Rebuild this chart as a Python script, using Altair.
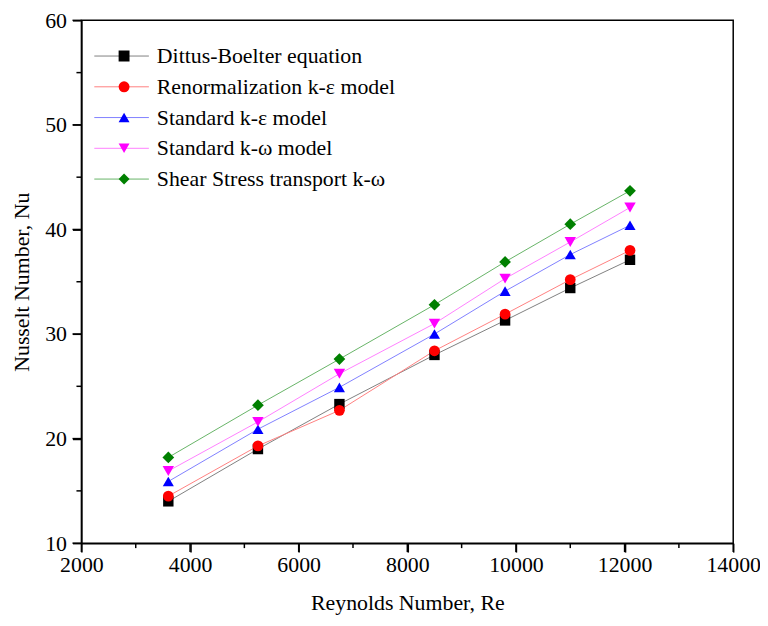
import altair as alt
import pandas as pd

# ---- data ----
reynolds = [3600, 5250, 6750, 8500, 9800, 11000, 12100]
series_names = [
    "Dittus-Boelter equation",
    "Renormalization k-ε model",
    "Standard k-ε model",
    "Standard k-ω model",
    "Shear Stress transport k-ω",
]
dittus = [14.0, 19.0, 23.3, 28.0, 31.3, 34.4, 37.1]
renorm_ke = [14.5, 19.3, 22.7, 28.4, 31.9, 35.2, 38.0]
standard_ke = [15.9, 20.9, 24.9, 30.0, 34.1, 37.6, 40.4]
standard_kw = [16.9, 21.6, 26.2, 31.0, 35.3, 38.8, 42.1]
sst_kw = [18.2, 23.2, 27.6, 32.8, 36.9, 40.5, 43.7]

colors = ["#000000", "#ff0000", "#0000ff", "#ff00ff", "#008000"]
line_colors = ["#808080", "#ff8080", "#8080ff", "#ff80ff", "#66b366"]
shapes = ["square", "circle", "triangle-up", "triangle-down", "diamond"]
marker_sizes = [110, 140, 160, 160, 160]

x_major = list(range(2000, 14001, 2000))
x_minor = list(range(3000, 14000, 2000))
y_major = list(range(10, 61, 10))
y_minor = list(range(15, 60, 10))

values = [dittus, renorm_ke, standard_ke, standard_kw, sst_kw]
rows = []
for name, vals in zip(series_names, values):
    for re_, nu in zip(reynolds, vals):
        rows.append({"Re": re_, "Nu": nu, "series": name})
df = pd.DataFrame(rows)

W, H = 657, 527
MAJOR, MINOR = 9, 5

FONT = "Liberation Serif"
x_scale = alt.Scale(domain=[2000, 14000], nice=False, zero=False)
y_scale = alt.Scale(domain=[10, 60], nice=False, zero=False)

x_major_axis = alt.Axis(
    title="Reynolds Number, Re", orient="bottom", values=x_major, format="d",
    ticks=True, tickSize=MAJOR, labelPadding=3, titlePadding=17,
)
y_major_axis = alt.Axis(
    title="Nusselt Number, Nu", orient="left", values=y_major,
    ticks=True, tickSize=MAJOR, labelPadding=6, titlePadding=11,
)

ROW_H = 23
line_legend = alt.Legend(
    title=None, orient="none", legendX=12.5, legendY=24.5, padding=0,
    symbolType="stroke", symbolSize=3025, symbolStrokeWidth=1,
    labelFont=FONT, labelFontSize=22, labelExpr="''", labelLimit=500,
    labelOffset=22, clipHeight=ROW_H, rowPadding=8,
)
marker_legend = alt.Legend(
    title=None, orient="none", legendX=32, legendY=24.5, padding=0,
    symbolSize=121, symbolStrokeWidth=0, symbolOpacity=1,
    labelFont=FONT, labelFontSize=22, labelColor="black", labelLimit=500,
    labelOffset=22, clipHeight=ROW_H, rowPadding=8,
)

lines = alt.Chart(df).mark_line(strokeWidth=1).encode(
    x=alt.X("Re:Q", scale=x_scale, axis=x_major_axis),
    y=alt.Y("Nu:Q", scale=y_scale, axis=y_major_axis),
    color=alt.Color("series:N", scale=alt.Scale(domain=series_names, range=line_colors), legend=line_legend),
)

points = alt.Chart(df).mark_point(filled=True, opacity=1).encode(
    x=alt.X("Re:Q", scale=x_scale, axis=None),
    y=alt.Y("Nu:Q", scale=y_scale, axis=None),
    color=alt.Color("series:N", scale=alt.Scale(domain=series_names, range=colors), legend=marker_legend),
    shape=alt.Shape("series:N", scale=alt.Scale(domain=series_names, range=shapes), legend=marker_legend),
    size=alt.Size("series:O", scale=alt.Scale(domain=series_names, range=marker_sizes), legend=None),
)

# outward axis ticks (major and minor), placed through the axis scales
x_tick_df = pd.DataFrame(
    [{"v": v, "len": MAJOR} for v in x_major] + [{"v": v, "len": MINOR} for v in x_minor]
)
y_tick_df = pd.DataFrame(
    [{"v": v, "len": MAJOR} for v in y_major] + [{"v": v, "len": MINOR} for v in y_minor]
)

x_ticks_major = alt.Chart(x_tick_df).transform_filter(f"datum.len == {MAJOR}").mark_rule(
    color="black", strokeWidth=1.5
).encode(x=alt.X("v:Q", scale=x_scale, axis=None), y=alt.value(H), y2=alt.value(H + MAJOR))
x_ticks_minor = alt.Chart(x_tick_df).transform_filter(f"datum.len == {MINOR}").mark_rule(
    color="black", strokeWidth=1.5
).encode(x=alt.X("v:Q", scale=x_scale, axis=None), y=alt.value(H), y2=alt.value(H + MINOR))
y_ticks_major = alt.Chart(y_tick_df).transform_filter(f"datum.len == {MAJOR}").mark_rule(
    color="black", strokeWidth=1.5
).encode(y=alt.Y("v:Q", scale=y_scale, axis=None), x=alt.value(-MAJOR), x2=alt.value(0))
y_ticks_minor = alt.Chart(y_tick_df).transform_filter(f"datum.len == {MINOR}").mark_rule(
    color="black", strokeWidth=1.5
).encode(y=alt.Y("v:Q", scale=y_scale, axis=None), x=alt.value(-MINOR), x2=alt.value(0))

chart = (
    alt.layer(lines, points, x_ticks_major, x_ticks_minor, y_ticks_major, y_ticks_minor)
    .resolve_scale(color="independent", shape="independent")
    .resolve_axis(x="independent", y="independent")
    .properties(
        width=W,
        height=H,
        background="white",
        autosize=alt.AutoSizeParams(type="none"),
        padding={"left": 74, "top": 10, "right": 27, "bottom": 72},
    )
    .configure_axis(
        domainColor="black",
        domainWidth=1.5,
        tickColor="black",
        tickWidth=1.5,
        labelFont=FONT,
        labelFontSize=22,
        labelColor="black",
        titleFont=FONT,
        titleFontSize=22,
        titleFontWeight="normal",
        titleColor="black",
        grid=False,
        labelOverlap=False,
        labelFlush=False,
    )
    .configure_view(stroke="black", strokeWidth=1.5)
)

chart.save("out.html", embed_options={"renderer": "svg", "actions": False})
